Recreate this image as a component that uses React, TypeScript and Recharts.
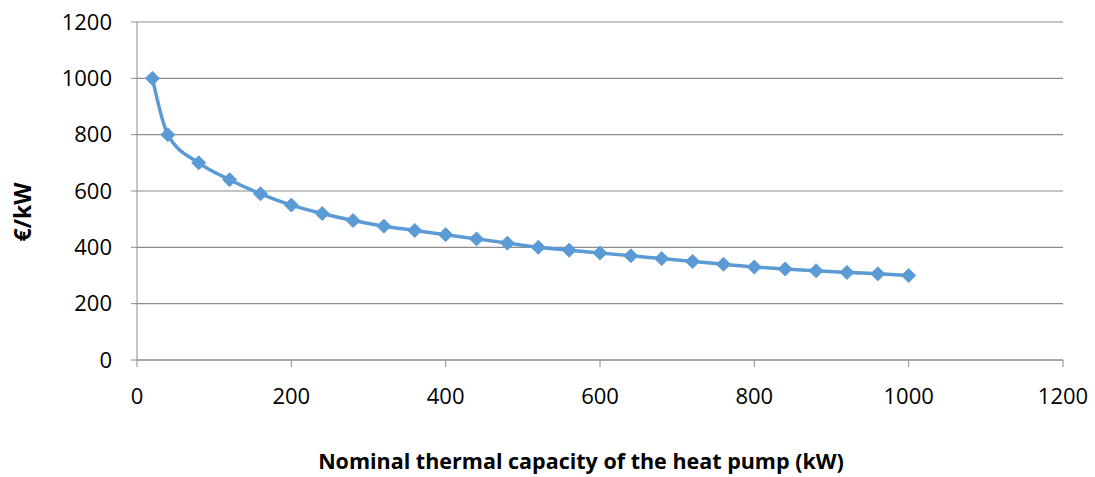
import { LineChart, Line, XAxis, YAxis, CartesianGrid, Label } from 'recharts';

const capacityKw = [
  20, 40, 80, 120, 160, 200, 240, 280, 320, 360, 400, 440, 480, 520, 560, 600, 640, 680, 720, 760, 800,
  840, 880, 920, 960, 1000,
];
const costPerKw = [
  1000, 800, 700, 640, 590, 550, 520, 495, 475, 460, 445, 430, 415, 400, 390, 380, 370, 360, 350, 340,
  330, 323, 317, 311, 306, 300,
];
const xTicks = [0, 200, 400, 600, 800, 1000, 1200];
const yTicks = [0, 200, 400, 600, 800, 1000, 1200];

const data = capacityKw.map((kw, i) => ({ kw, cost: costPerKw[i] }));

const BLUE = '#5B9BD5';
const GREY = '#8C8C8C';
const FONT = '"Open Sans", sans-serif';
const titleStyle = { fill: '#000', fontSize: 21.5, fontWeight: 700, fontFamily: FONT };

function Diamond(props: { cx?: number; cy?: number; index?: number }) {
  const { cx, cy, index } = props;
  if (cx == null || cy == null) return null;
  const r = 7;
  return (
    <polygon
      key={index}
      points={`${cx},${cy - r} ${cx + r},${cy} ${cx},${cy + r} ${cx - r},${cy}`}
      fill={BLUE}
      stroke={BLUE}
      strokeWidth={1}
    />
  );
}

export default function App() {
  return (
    <div style={{ position: 'absolute', left: 0, top: 0, background: '#fff' }}>
      <LineChart
        width={1095}
        height={477}
        data={data}
        margin={{ top: 22, right: 32, bottom: 0, left: 0 }}
      >
        <CartesianGrid horizontal vertical={false} stroke={GREY} strokeWidth={1.2} />
        <XAxis
          dataKey="kw"
          type="number"
          domain={[0, 1200]}
          ticks={xTicks}
          height={117}
          stroke={GREY}
          tickSize={7}
          tickMargin={21}
          tick={{ fill: '#000', fontSize: 22, fontFamily: FONT }}
        >
          <Label
            content={() => (
              <text x={581} y={469} textAnchor="middle" style={titleStyle}>
                Nominal thermal capacity of the heat pump (kW)
              </text>
            )}
          />
        </XAxis>
        <YAxis
          type="number"
          domain={[0, 1200]}
          ticks={yTicks}
          width={137}
          stroke={GREY}
          tickSize={6}
          tickMargin={19}
          tick={{ fill: '#000', fontSize: 22, fontFamily: FONT }}
        >
          <Label
            content={() => (
              <text
                x={22}
                y={212}
                transform="rotate(-90 22 212)"
                textAnchor="middle"
                dominantBaseline="central"
                style={{ ...titleStyle, fontSize: 23 }}
              >
                €/kW
              </text>
            )}
          />
        </YAxis>
        <Line
          type="monotone"
          dataKey="cost"
          stroke={BLUE}
          strokeWidth={3.5}
          dot={<Diamond />}
          activeDot={false}
          isAnimationActive={false}
        />
      </LineChart>
    </div>
  );
}
